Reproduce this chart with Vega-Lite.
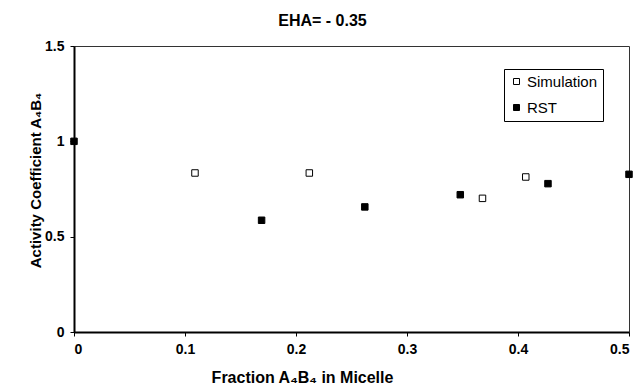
{
  "$schema": "https://vega.github.io/schema/vega-lite/v6.json",
  "width": 555,
  "height": 286,
  "autosize": {"type": "none"},
  "padding": {"left": 74, "top": 46, "right": 14, "bottom": 52},
  "title": {"text": "EHA= - 0.35", "fontSize": 16, "fontWeight": "bold", "font": "Liberation Sans", "anchor": "middle", "dx": -29, "offset": 10, "color": "black"},
  "data": {"values": [
    {"series": "Simulation", "x": 0.109, "y": 0.834},
    {"series": "Simulation", "x": 0.212, "y": 0.834},
    {"series": "Simulation", "x": 0.368, "y": 0.701},
    {"series": "Simulation", "x": 0.407, "y": 0.813},
    {"series": "RST", "x": 0.0, "y": 1.0},
    {"series": "RST", "x": 0.169, "y": 0.586},
    {"series": "RST", "x": 0.262, "y": 0.656},
    {"series": "RST", "x": 0.348, "y": 0.72},
    {"series": "RST", "x": 0.427, "y": 0.778},
    {"series": "RST", "x": 0.5, "y": 0.827}
  ]},
  "mark": {"type": "point", "shape": "square", "filled": true, "stroke": "black", "strokeWidth": 1, "size": 42, "opacity": 1, "clip": false},
  "encoding": {
    "x": {"field": "x", "type": "quantitative", "scale": {"domain": [0, 0.5], "nice": false, "zero": false},
      "axis": {"title": "Fraction A₄B₄ in Micelle", "titleFontSize": 16, "values": [0, 0.1, 0.2, 0.3, 0.4, 0.5], "format": "~g", "titleX": 228, "titleY": 50, "titleBaseline": "alphabetic", "titleAlign": "center", "titleAnchor": null, "labelPadding": 6}},
    "y": {"field": "y", "type": "quantitative", "scale": {"domain": [0, 1.5], "nice": false},
      "axis": {"title": "Activity Coefficient A₄B₄", "titleFontSize": 15, "values": [0, 0.5, 1, 1.5], "format": "~g", "titleX": -34, "titleY": 134, "titleAngle": -90, "titleBaseline": "alphabetic", "titleAlign": "center", "titleAnchor": null, "labelPadding": 6}},
    "fill": {"field": "series", "type": "nominal", "scale": {"domain": ["Simulation", "RST"], "range": ["white", "black"]},
      "legend": {"title": null, "orient": "none", "legendX": 430, "legendY": 23, "symbolType": "square", "symbolSize": 36, "symbolStrokeColor": "black", "symbolStrokeWidth": 1, "labelFontSize": 15, "labelFont": "Liberation Sans", "labelColor": "black", "rowPadding": 10, "padding": 5, "strokeColor": "black", "fillColor": "white", "labelOffset": 3}}
  },
  "config": {
    "font": "Liberation Sans",
    "view": {"stroke": "#333", "strokeWidth": 1},
    "axis": {"grid": false, "domainColor": "black", "domainWidth": 2, "tickColor": "black", "tickSize": 4, "labelFont": "Liberation Sans", "labelFontSize": 14, "labelFontWeight": "bold", "labelColor": "black", "titleFont": "Liberation Sans", "titleFontWeight": "bold", "titleColor": "black"}
  }
}
